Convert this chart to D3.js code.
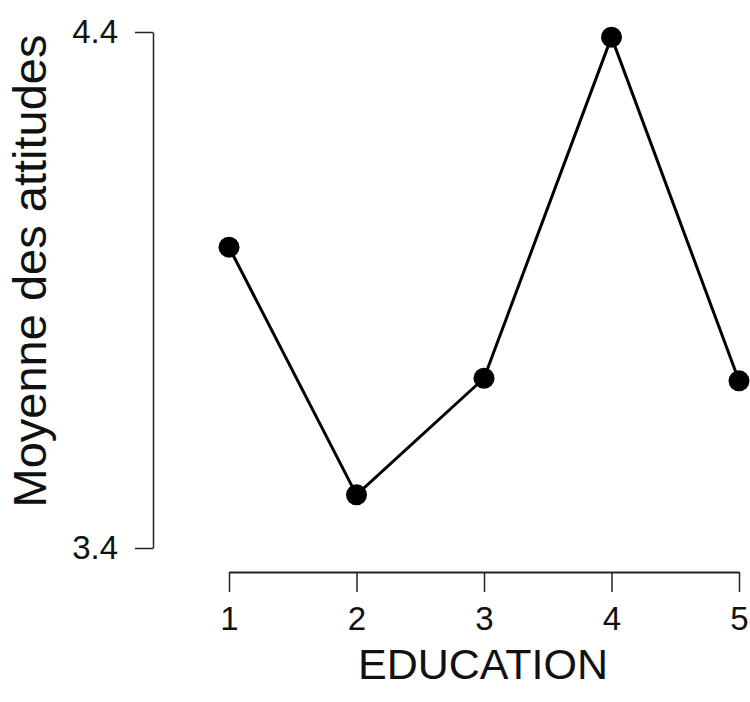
<!DOCTYPE html>
<html>
<head>
<meta charset="utf-8">
<script src="https://cdn.jsdelivr.net/npm/d3@7"></script>
<style>
  html, body { margin: 0; padding: 0; background: #fff; }
  svg { display: block; }
  text { font-family: "Liberation Sans", Arial, sans-serif; fill: #111; }
</style>
</head>
<body>
<svg id="chart" width="750" height="702"></svg>
<script>
// Mean attitude score by education level
const education = [1, 2, 3, 4, 5];
const meanAttitude = [3.983, 3.503, 3.729, 4.390, 3.724];
const yTicks = [3.4, 4.4];
const xTicks = [1, 2, 3, 4, 5];

const svg = d3.select("#chart");

const x = d3.scaleLinear().domain([1, 5]).range([229, 739]);
const y = d3.scaleLinear().domain([3.4, 4.4]).range([548, 32]);

// Left axis (line spans the tick range only)
const yAxis = svg.append("g").attr("transform", "translate(153,0)")
  .call(d3.axisLeft(y).tickValues(yTicks).tickFormat(d3.format(".1f"))
    .tickSizeInner(18).tickSizeOuter(0).tickPadding(17));
yAxis.select(".domain").attr("stroke", "#222").attr("stroke-width", 1.5);
yAxis.selectAll(".tick line").attr("stroke", "#222").attr("stroke-width", 1.5);
yAxis.selectAll(".tick text").attr("font-size", 33).attr("fill", "#111")
  .attr("font-family", "Liberation Sans, Arial, sans-serif");

// Bottom axis
const xAxis = svg.append("g").attr("transform", "translate(0,572)")
  .call(d3.axisBottom(x).tickValues(xTicks).tickFormat(d3.format("d"))
    .tickSizeInner(20).tickSizeOuter(0).tickPadding(15));
xAxis.select(".domain").attr("stroke", "#222").attr("stroke-width", 2);
xAxis.selectAll(".tick line").attr("stroke", "#222").attr("stroke-width", 1.5);
xAxis.selectAll(".tick text").attr("font-size", 33).attr("fill", "#111")
  .attr("font-family", "Liberation Sans, Arial, sans-serif");

// Axis titles
svg.append("text")
  .attr("x", 483).attr("y", 679)
  .attr("text-anchor", "middle")
  .attr("font-size", 43)
  .text("EDUCATION");

svg.append("text")
  .attr("transform", "translate(46,271) rotate(-90)")
  .attr("text-anchor", "middle")
  .attr("font-size", 47)
  .text("Moyenne des attitudes");

// Series line and points
const data = education.map((e, i) => ({ e, v: meanAttitude[i] }));

svg.append("path")
  .datum(data)
  .attr("fill", "none")
  .attr("stroke", "#000")
  .attr("stroke-width", 3)
  .attr("d", d3.line().x(d => x(d.e)).y(d => y(d.v)));

svg.selectAll("circle.pt")
  .data(data)
  .join("circle")
  .attr("class", "pt")
  .attr("cx", d => x(d.e))
  .attr("cy", d => y(d.v))
  .attr("r", 10.5)
  .attr("fill", "#000");
</script>
</body>
</html>
